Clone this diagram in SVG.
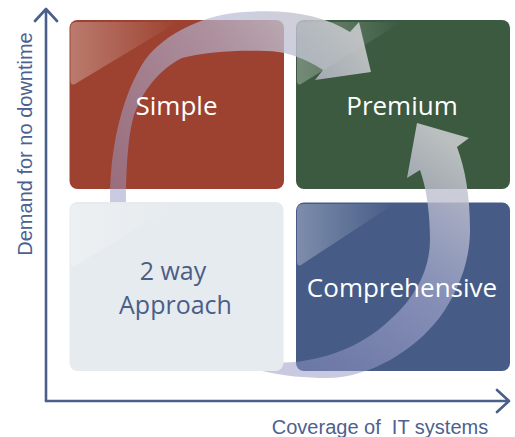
<svg xmlns="http://www.w3.org/2000/svg" width="515" height="437" viewBox="0 0 515 437">
<style>
.lbl{font-family:"Open Sans","Noto Sans",sans-serif;font-size:26px;text-anchor:middle;fill:#ffffff}
.dark{fill:#4b5e88;font-size:25px}
.axis{fill:none;stroke:#4a5f8a;stroke-width:2.6;stroke-linecap:round;stroke-linejoin:round}
.axl{font-family:"Liberation Sans",Arial,sans-serif;font-size:20px;fill:#4d6190;text-anchor:middle}
</style>
<defs>
<linearGradient id="gloss" x1="0" y1="0" x2="1" y2="0">
<stop offset="0" stop-color="#ffffff" stop-opacity="0.3"/>
<stop offset="0.6" stop-color="#ffffff" stop-opacity="0.12"/>
<stop offset="1" stop-color="#ffffff" stop-opacity="0"/>
</linearGradient>
<linearGradient id="glossL" x1="0" y1="0" x2="1" y2="0">
<stop offset="0" stop-color="#ffffff" stop-opacity="0.5"/>
<stop offset="1" stop-color="#ffffff" stop-opacity="0"/>
</linearGradient>
<linearGradient id="gA" gradientUnits="userSpaceOnUse" x1="115" y1="210" x2="360" y2="40">
<stop offset="0" stop-color="#9496c6" stop-opacity="0.5"/>
<stop offset="0.6" stop-color="#b6b8d6" stop-opacity="0.66"/>
<stop offset="1" stop-color="#c9cacd" stop-opacity="0.9"/>
</linearGradient>
<linearGradient id="gB" gradientUnits="userSpaceOnUse" x1="275" y1="372" x2="440" y2="135">
<stop offset="0" stop-color="#8e8fc2" stop-opacity="0.48"/>
<stop offset="0.55" stop-color="#acaed2" stop-opacity="0.64"/>
<stop offset="1" stop-color="#c9cacd" stop-opacity="0.9"/>
</linearGradient>
</defs>

<g id="axes">
<path class="axis" d="M46,401 L46,9 M35,21 L46,9 L57,21"/>
<path class="axis" d="M46,401 L509,401 M497,390 L509,401 L497,412"/>
<text class="axl" transform="translate(32,144) rotate(-90)">Demand for no downtime</text>
<text class="axl" x="380" y="434" xml:space="preserve">Coverage of  IT systems</text>
</g>

<g id="node-simple">
<rect x="69.5" y="20" width="214.5" height="169" rx="8" fill="#9d4230"/>
<path d="M70.5,28 Q70.5,22 76,22 L178,22 L75,84 Q70.5,86 70.5,80 Z" fill="url(#gloss)"/>
</g>
<g id="node-premium">
<rect x="296" y="20" width="214" height="169" rx="8" fill="#3b5a40"/>
<path d="M297,28 Q297,22 303,22 L402,22 L301,84 Q297,86 297,80 Z" fill="url(#gloss)"/>
</g>
<g id="node-comprehensive">
<rect x="296" y="202.5" width="214" height="168.5" rx="8" fill="#465c87"/>
<path d="M297,210 Q297,204 303,204 L394,204 L301,265 Q297,267 297,261 Z" fill="url(#gloss)"/>
</g>

<g id="connectors">
<path id="arrow-to-premium-top" fill="url(#gA)" d="M109,250 L110,200 C110,140 125,90 145,60 C165,33 205,14 245,12 C290,9 325,16 350,32 L359,22 L371,72 L315,80 L323,70 C305,58 285,51 265,51 C235,50 205,52 182,58 C158,70 142,92 134,115 C128,135 126,170 126,200 L125,250 Z"/>
<path id="arrow-to-premium-right" fill="url(#gB)" d="M255,368 L262,371 C285,376 305,378 327,378 C370,378 415,350 440,317 C458,292 470,262 470,230 C470,195 465,168 457,147 L469,138 L417,123 L407,178 L420,170 C427,190 430,215 430,240 C430,270 415,297 393,317 C365,345 330,358 295,362 L255,364 Z"/>
</g>

<g id="node-2way">
<rect x="69.5" y="202" width="214" height="169" rx="8" fill="#e6ebef"/>
<path d="M70.5,210 Q70.5,204 76,204 L176,204 L75,266 Q70.5,268 70.5,262 Z" fill="url(#glossL)" opacity="0.5"/>
</g>

<g id="labels">
<text id="label-simple" class="lbl" x="176.5" y="115">Simple</text>
<text id="label-premium" class="lbl" x="402" y="115">Premium</text>
<text id="label-comprehensive" class="lbl" x="402" y="297">Comprehensive</text>
<text id="label-2way-1" class="lbl dark" x="173" y="279.5">2 way</text>
<text id="label-2way-2" class="lbl dark" x="175.5" y="313.5">Approach</text>
</g>
</svg>
